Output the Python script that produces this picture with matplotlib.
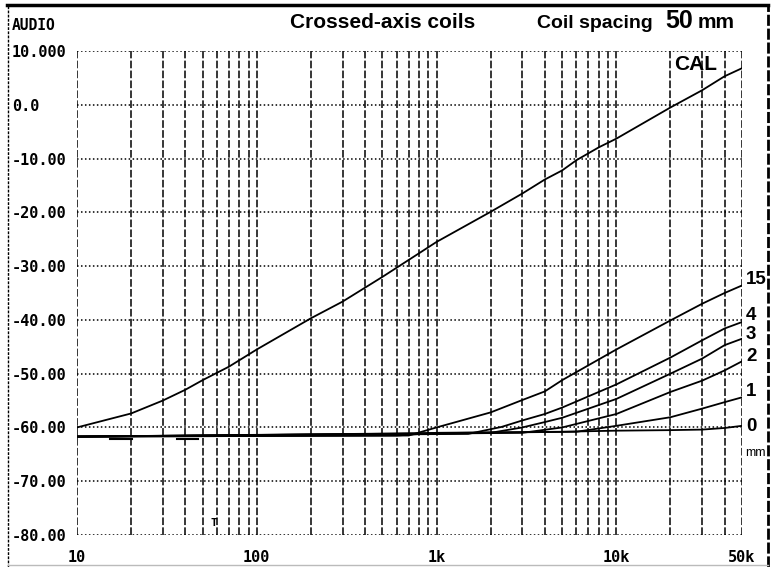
import numpy as np
import matplotlib.pyplot as plt
from matplotlib.lines import Line2D
from matplotlib.transforms import blended_transform_factory

# 读数：频率 (Hz) 与电平 (dB)
cal_f = [10, 20, 30, 40, 50, 70, 100, 200, 300, 500, 800, 1000, 2000, 3000,
         4000, 5000, 6000, 8000, 10000, 20000, 30000, 40000, 50000]
cal_db = [-60.0, -57.4, -55.0, -53.0, -51.2, -48.7, -45.5, -39.7, -36.6, -32.0,
          -27.6, -25.5, -19.9, -16.5, -13.9, -12.2, -10.3, -7.9, -6.3, -0.5,
          2.7, 5.3, 6.8]

f15 = [10, 700, 1000, 2000, 3000, 4000, 5000, 10000, 20000, 30000, 40000, 50000]
db15 = [-61.7, -61.5, -60.0, -57.2, -54.9, -53.3, -51.2, -45.5, -40.1, -37.0, -35.0, -33.6]

f4 = [10, 1500, 2300, 3000, 4000, 5000, 10000, 20000, 30000, 40000, 50000]
db4 = [-61.7, -61.2, -59.9, -58.7, -57.5, -56.3, -52.0, -47.0, -43.8, -41.6, -40.4]

f3 = [10, 2000, 3000, 4000, 5000, 10000, 20000, 30000, 40000, 50000]
db3 = [-61.7, -61.0, -60.0, -59.0, -58.2, -54.7, -50.0, -47.2, -44.7, -43.5]

f2 = [10, 3000, 5000, 10000, 20000, 30000, 40000, 50000]
db2 = [-61.7, -61.0, -60.0, -57.5, -53.4, -51.3, -49.4, -47.7]

f1 = [10, 6000, 10000, 20000, 30000, 40000, 50000]
db1 = [-61.7, -60.8, -59.7, -58.1, -56.5, -55.3, -54.4]

f0 = [10, 600, 1000, 5000, 10000, 20000, 30000, 40000, 50000]
db0 = [-61.7, -61.5, -61.0, -60.8, -60.6, -60.5, -60.4, -60.1, -59.7]

# 基线下方的短线段
mark_f = [(15.3, 20.2), (36, 47)]
mark_db = -62.1

curve_names = ['15', '4', '3', '2', '1', '0']
curve_label_db = [-32.4, -39.2, -42.7, -46.9, -53.4, -59.9]

y_ticks = [10, 0, -10, -20, -30, -40, -50, -60, -70, -80]
y_labels = ['10.000', '0.0', '-10.00', '-20.00', '-30.00', '-40.00',
            '-50.00', '-60.00', '-70.00', '-80.00']
x_ticks = [10, 100, 1000, 10000, 50000]
x_labels = ['10', '100', '1k', '10k', '50k']

fig = plt.figure(figsize=(7.74, 5.67), dpi=100)
ax = fig.add_axes([77 / 774, 1 - 535 / 567, 665 / 774, 484 / 567])

ax.set_xscale('log')
ax.set_xlim(10, 50000)
ax.set_ylim(-80, 10)

# 曲线
ax.plot(cal_f, cal_db, color='black', lw=1.3)
for f, db in [(f15, db15), (f4, db4), (f3, db3), (f2, db2), (f1, db1), (f0, db0)]:
    ax.plot(f, db, color='black', lw=1.3)
for a, b in mark_f:
    ax.plot([a, b], [mark_db, mark_db], color='black', lw=1.5)

# 网格
minor = [m * 10 ** d for d in range(1, 5) for m in range(2, 10) if m * 10 ** d < 50000]
ax.set_xticks(x_ticks)
ax.set_xticklabels(x_labels)
ax.set_xticks(minor, minor=True)
ax.set_yticks(y_ticks)
ax.set_yticklabels(y_labels)
ax.xaxis.grid(True, which='both', color='black', lw=1.1, ls=(0, (5, 1.5)))
ax.yaxis.grid(True, which='major', color='black', lw=1.1, ls=(0, (1, 1.6)))
for s in ax.spines.values():
    s.set_visible(False)

ax.tick_params(axis='both', which='both', length=0)
ax.tick_params(axis='x', pad=11, labelsize=11)
ax.tick_params(axis='y', pad=47, labelsize=11)
for lab in ax.get_xticklabels() + ax.get_yticklabels():
    lab.set_fontfamily('DejaVu Sans Mono')
    lab.set_fontweight('bold')
for lab in ax.get_yticklabels():
    lab.set_horizontalalignment('left')

# 右侧标注
tr = blended_transform_factory(ax.transAxes, ax.transData)
for name, db in zip(curve_names, curve_label_db):
    ax.text(1.006, db, name, transform=tr, ha='left', va='center',
            fontsize=13.5, fontweight='bold', family='Liberation Sans', clip_on=False)
ax.text(1.005, -64.7, 'mm', transform=tr, ha='left', va='center',
        fontsize=9, family='Liberation Sans', clip_on=False)
ax.text(21000, 7.4, 'CAL', ha='left', va='center', fontsize=15,
        fontweight='bold', family='Liberation Sans')
ax.text(58, -77.8, 'T', ha='center', va='center', fontsize=8,
        fontweight='bold', family='DejaVu Sans Mono')

# 标题文字
fig.text(12 / 774, 1 - 25 / 567, 'AUDIO', ha='left', va='center', fontsize=10.5,
         fontweight='bold', family='DejaVu Sans Mono')
fig.text(383 / 774, 1 - 28 / 567, 'Crossed-axis coils', ha='center', va='baseline',
         fontsize=15, fontweight='bold', family='Liberation Sans')
fig.text(537 / 774, 1 - 28 / 567, 'Coil spacing', ha='left', va='baseline',
         fontsize=14, fontweight='bold', family='Liberation Sans')
fig.text(665 / 774, 1 - 28 / 567, '50', ha='left', va='baseline',
         fontsize=18, fontweight='bold', family='Liberation Sans')
fig.text(698 / 774, 1 - 28 / 567, 'mm', ha='left', va='baseline',
         fontsize=15, fontweight='bold', family='Liberation Sans')

# 外框
fig.add_artist(Line2D([7 / 774, 768 / 774], [1 - 5 / 567] * 2, color='black', lw=2.5))
fig.add_artist(Line2D([8 / 774] * 2, [0, 1 - 5 / 567], color='black', lw=1, ls=(0, (2, 1))))
fig.add_artist(Line2D([768 / 774] * 2, [0, 1 - 5 / 567], color='black', lw=2, ls=(0, (4, 1))))
fig.add_artist(Line2D([8 / 774, 768 / 774], [2 / 567] * 2, color='#bbbbbb', lw=1))

fig.savefig('out.png', dpi=100)
